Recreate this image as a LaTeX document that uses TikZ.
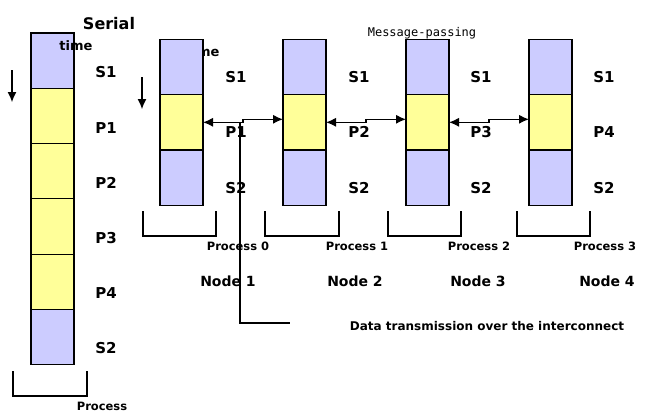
\documentclass[tikz,border=0pt]{standalone}
\usepackage{fontspec}
\setmainfont{DejaVu Sans}
\setmonofont{DejaVu Sans Mono}
\usetikzlibrary{arrows.meta,positioning}
\definecolor{seqblue}{RGB}{204,204,255}
\definecolor{paryellow}{RGB}{255,255,153}
\tikzset{
  blk/.style={draw=black,inner sep=0pt,outer sep=0pt,minimum width=43pt,minimum height=55.3pt},
  sblk/.style={blk,fill=seqblue},
  pblk/.style={blk,fill=paryellow},
  lbl/.style={font=\fontsize{15}{15}\selectfont\bfseries,inner sep=0pt},
  plbl/.style={font=\fontsize{11.5}{12}\selectfont\bfseries,inner sep=0pt},
  nlbl/.style={font=\fontsize{14}{14}\selectfont\bfseries,inner sep=0pt},
  tlbl/.style={font=\fontsize{13}{13}\selectfont\bfseries,inner sep=0pt},
  tip/.style={-{Latex[length=10pt,width=9pt]}},
  msg/.style={{Latex[length=10pt,width=9pt]}-{Latex[length=10pt,width=9pt]}}
}
\begin{document}
\begin{tikzpicture}[x=1pt,y=-1pt,line width=1.1pt]
\useasboundingbox (0,0) rectangle (649,418);
% serial
\node[font=\fontsize{16}{16}\selectfont\bfseries,inner sep=0pt] (serial) at (109,24) {Serial};
\node[sblk] (ss1) at (52.5,60.6) {};
\node[pblk,below=0pt of ss1] (sp1) {};
\node[pblk,below=0pt of sp1] (sp2) {};
\node[pblk,below=0pt of sp2] (sp3) {};
\node[pblk,below=0pt of sp3] (sp4) {};
\node[sblk,below=0pt of sp4] (ss2) {};
\node[tlbl] (stime) at (76,46) {time};
\node[lbl] at (106,72) {S1};
\node[lbl] at (106,128) {P1};
\node[lbl] at (106,183) {P2};
\node[lbl] at (106,238) {P3};
\node[lbl] at (106,293) {P4};
\node[lbl] at (106,348) {S2};
\coordinate (sta) at (12,70);
\coordinate (stb) at (12,102);
\draw[tip] (sta) -- (stb);
\draw (13,371) -- (13,396) -- (87,396) -- (87,371);
\node[plbl] (sproc) at (102,406) {Process};
% message passing
\node[font=\fontsize{12}{12}\selectfont\ttfamily,inner sep=0pt] (mp) at (422,33) {Message-passing};
\node[tlbl] (ptime) at (203,52) {time};
\node[sblk] (a1) at (181.5,67) {};
\node[pblk,below=0pt of a1] (a2) {};
\node[sblk,below=0pt of a2] (a3) {};
\node[sblk] (b1) at (304.5,67) {};
\node[pblk,below=0pt of b1] (b2) {};
\node[sblk,below=0pt of b2] (b3) {};
\node[sblk] (c1) at (427.5,67) {};
\node[pblk,below=0pt of c1] (c2) {};
\node[sblk,below=0pt of c2] (c3) {};
\node[sblk] (d1) at (550.5,67) {};
\node[pblk,below=0pt of d1] (d2) {};
\node[sblk,below=0pt of d2] (d3) {};
\node[lbl] at (236,77) {S1};
\node[lbl] at (236,132) {P1};
\node[lbl] at (236,188) {S2};
\node[lbl] at (359,77) {S1};
\node[lbl] at (359,132) {P2};
\node[lbl] at (359,188) {S2};
\node[lbl] at (481,77) {S1};
\node[lbl] at (481,132) {P3};
\node[lbl] at (481,188) {S2};
\node[lbl] at (604,77) {S1};
\node[lbl] at (604,132) {P4};
\node[lbl] at (604,188) {S2};
\coordinate (pta) at (142,77);
\coordinate (ptb) at (142,109);
\draw[tip] (pta) -- (ptb);
\draw[msg] (a2.east) -- ++(40,0) -- ++(0,-3) -- ([yshift=3pt]b2.west);
\draw[msg] (b2.east) -- ++(40,0) -- ++(0,-3) -- ([yshift=3pt]c2.west);
\draw[msg] (c2.east) -- ++(40,0) -- ++(0,-3) -- ([yshift=3pt]d2.west);
\draw (143,211) -- (143,236) -- (216,236) -- (216,211);
\draw (265,211) -- (265,236) -- (339,236) -- (339,211);
\draw (388,211) -- (388,236) -- (461,236) -- (461,211);
\draw (517,211) -- (517,236) -- (590,236) -- (590,211);
\node[plbl] at (238,246) {Process 0};
\node[plbl] at (357,246) {Process 1};
\node[plbl] at (479,246) {Process 2};
\node[plbl] at (605,246) {Process 3};
\node[nlbl] at (228,281) {Node 1};
\node[nlbl] at (355,281) {Node 2};
\node[nlbl] at (478,281) {Node 3};
\node[nlbl] at (607,281) {Node 4};
\coordinate (tap) at ([xshift=37pt]a2.east);
\coordinate (tend) at (290,323);
\draw (tap) |- (tend);
\node[font=\fontsize{12}{12}\selectfont\bfseries,inner sep=0pt] (dt) at (487,326) {Data transmission over the interconnect};
\end{tikzpicture}
\end{document}
